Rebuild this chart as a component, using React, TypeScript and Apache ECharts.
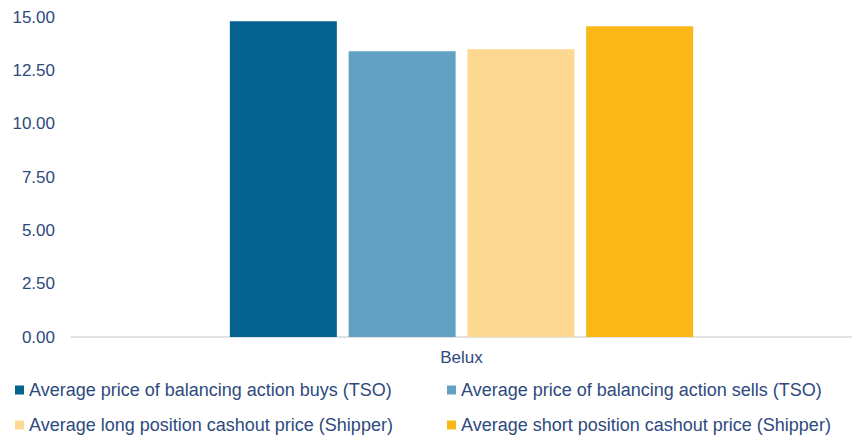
import React, { useEffect, useRef } from "react";
import * as echarts from "echarts";

const categories = ["Belux"];
const seriesNames = [
  "Average price of balancing action buys (TSO)",
  "Average price of balancing action sells (TSO)",
  "Average long position cashout price (Shipper)",
  "Average short position cashout price (Shipper)",
];
const buysTSO = [14.8];
const sellsTSO = [13.39];
const longCashout = [13.49];
const shortCashout = [14.57];
const colors = ["#03628F", "#62A0C4", "#FDD890", "#FAB718"];
const textColor = "#2E4A7D";

export default function App() {
  const ref = useRef<HTMLDivElement>(null);
  useEffect(() => {
    if (!ref.current) return;
    const chart = echarts.init(ref.current, null, { renderer: "svg" });
    const values = [buysTSO, sellsTSO, longCashout, shortCashout];
    const font = "'Liberation Sans', Arial, sans-serif";
    const legendPos = [
      { left: 15, top: 381 },
      { left: 447, top: 381 },
      { left: 15, top: 416 },
      { left: 447, top: 416 },
    ];
    chart.setOption({
      animation: false,
      textStyle: { fontFamily: font },
      grid: { left: 71, right: -6, top: 17, bottom: 100, containLabel: false },
      legend: seriesNames.map((n, i) => ({
        data: [n],
        left: legendPos[i].left,
        top: legendPos[i].top,
        icon: "rect",
        itemWidth: 9,
        itemHeight: 9,
        padding: 0,
        selectedMode: false,
        textStyle: { color: textColor, fontSize: 18, fontFamily: font },
      })),
      xAxis: {
        type: "category",
        data: categories,
        axisLine: { show: true, lineStyle: { color: "#D9D9D9", width: 1.5 } },
        axisTick: { show: false },
        axisLabel: { color: textColor, fontSize: 17, margin: 12, fontFamily: font },
      },
      yAxis: {
        type: "value",
        min: 0,
        max: 15,
        interval: 2.5,
        splitLine: { show: false },
        axisLine: { show: false },
        axisTick: { show: false },
        axisLabel: {
          color: textColor,
          fontSize: 17,
          margin: 16,
          fontFamily: font,
          formatter: (v: number) => v.toFixed(2),
        },
      },
      series: seriesNames.map((n, i) => ({
        name: n,
        type: "bar",
        data: values[i],
        barWidth: 107,
        barGap: "11%",
        itemStyle: { color: colors[i] },
      })),
    });
    return () => chart.dispose();
  }, []);
  return (
    <div
      ref={ref}
      style={{ position: "fixed", left: 0, top: 0, width: 852, height: 437, background: "#fff" }}
    />
  );
}
